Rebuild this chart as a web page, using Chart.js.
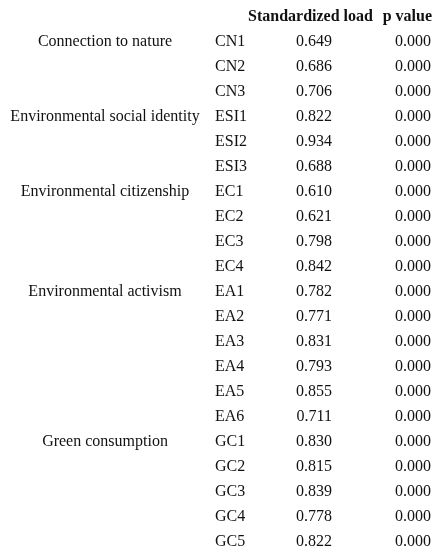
<!DOCTYPE html>
<html>
<head>
<meta charset="utf-8">
<script src="https://cdn.jsdelivr.net/npm/chart.js@4"></script>
<style>
  html, body { margin: 0; padding: 0; background: #fff; }
  #wrap { width: 444px; height: 558px; }
</style>
</head>
<body>
<div id="wrap"><canvas id="c"></canvas></div>
<script>
const groups = ['Connection to nature', '', '', 'Environmental social identity', '', '', 'Environmental citizenship', '', '', '',
  'Environmental activism', '', '', '', '', '', 'Green consumption', '', '', '', ''];
const codes = ['CN1', 'CN2', 'CN3', 'ESI1', 'ESI2', 'ESI3', 'EC1', 'EC2', 'EC3', 'EC4',
  'EA1', 'EA2', 'EA3', 'EA4', 'EA5', 'EA6', 'GC1', 'GC2', 'GC3', 'GC4', 'GC5'];
const loads = [0.649, 0.686, 0.706, 0.822, 0.934, 0.688, 0.610, 0.621, 0.798, 0.842,
  0.782, 0.771, 0.831, 0.793, 0.855, 0.711, 0.830, 0.815, 0.839, 0.778, 0.822];
const pValues = [0, 0, 0, 0, 0, 0, 0, 0, 0, 0, 0, 0, 0, 0, 0, 0, 0, 0, 0, 0, 0];
const headers = ['Standardized load', 'p value'];

// column anchors in x-scale units
const COL_GROUP = 105, COL_CODE = 215, COL_LOAD = 332, COL_P = 431;
const FONT = '"Liberation Serif", "DejaVu Serif", serif';

const tablePlugin = {
  id: 'table',
  afterDatasetsDraw(chart) {
    const ctx = chart.ctx, x = chart.scales.x, y = chart.scales.y;
    ctx.save();
    ctx.fillStyle = '#111';
    ctx.textBaseline = 'middle';
    const hy = y.getPixelForValue(0) - 25;
    ctx.font = 'bold 16px ' + FONT;
    ctx.textAlign = 'left';
    ctx.fillText(headers[0], x.getPixelForValue(248), hy);
    ctx.textAlign = 'right';
    ctx.fillText(headers[1], x.getPixelForValue(432), hy);
    ctx.font = '16px ' + FONT;
    codes.forEach((code, i) => {
      const py = y.getPixelForValue(i);
      if (groups[i]) {
        ctx.textAlign = 'center';
        ctx.fillText(groups[i], x.getPixelForValue(COL_GROUP), py);
      }
      ctx.textAlign = 'left';
      ctx.fillText(code, x.getPixelForValue(COL_CODE), py);
      ctx.textAlign = 'right';
      ctx.fillText(loads[i].toFixed(3), x.getPixelForValue(COL_LOAD), py);
      ctx.fillText(pValues[i].toFixed(3), x.getPixelForValue(COL_P), py);
    });
    ctx.restore();
  }
};

new Chart(document.getElementById('c'), {
  type: 'scatter',
  data: {
    labels: codes,
    datasets: [{
      data: codes.map(c => ({ x: COL_CODE, y: c })),
      pointRadius: 0
    }]
  },
  options: {
    responsive: true,
    maintainAspectRatio: false,
    animation: false,
    layout: { padding: { top: 42, bottom: 16, left: 0, right: 0 } },
    scales: {
      x: { type: 'linear', min: 0, max: 444, display: false },
      y: { type: 'category', labels: codes, offset: false, display: false }
    },
    plugins: { legend: { display: false }, tooltip: { enabled: false } }
  },
  plugins: [tablePlugin]
});
</script>
</body>
</html>
